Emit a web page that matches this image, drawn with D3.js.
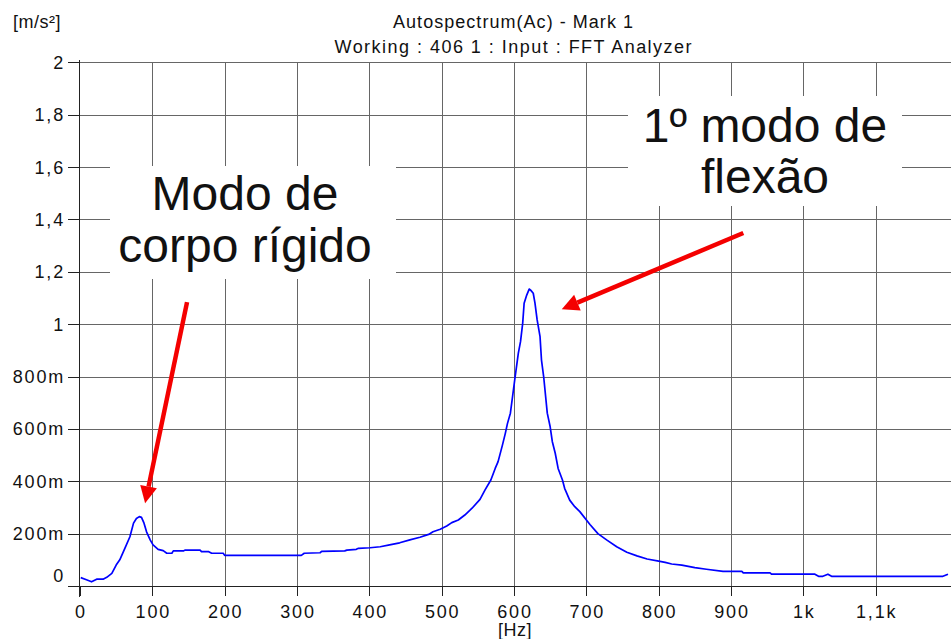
<!DOCTYPE html>
<html>
<head>
<meta charset="utf-8">
<script src="https://cdn.jsdelivr.net/npm/d3@7"></script>
<style>
  html, body { margin: 0; padding: 0; background: #fff; }
  svg { display: block; }
  text { font-family: "Liberation Sans", Arial, Helvetica, sans-serif; fill: #111; }
</style>
</head>
<body>
<svg id="chart" width="951" height="639"></svg>
<script>
// Autospectrum of the acceleration signal: [frequency Hz, amplitude m/s²]
const spectrum = [
  [1, 0.032], [8, 0.025], [16, 0.016], [23, 0.026], [32, 0.026], [37, 0.033],
  [44, 0.048], [50, 0.080], [55, 0.100], [62, 0.144], [69, 0.188], [74, 0.240],
  [78, 0.258], [82, 0.265], [85, 0.262], [88.5, 0.240], [92, 0.207], [97, 0.176],
  [101, 0.157], [108, 0.140], [115, 0.135], [120, 0.125], [127, 0.125], [129, 0.134],
  [143, 0.134], [145, 0.137], [166, 0.137], [168, 0.131], [178, 0.131], [182, 0.125],
  [198, 0.125], [200, 0.117], [306, 0.117], [310, 0.125], [332, 0.127], [334, 0.132],
  [366, 0.134], [369, 0.137], [382, 0.140], [385, 0.144], [401, 0.146], [415, 0.150],
  [428, 0.157], [442, 0.165], [456, 0.176], [470, 0.186], [482, 0.197], [488, 0.207],
  [498, 0.217], [507, 0.229], [514, 0.242], [523, 0.252], [532, 0.271], [542, 0.297],
  [553, 0.331], [560, 0.367], [568, 0.405], [574, 0.449], [578, 0.475], [584, 0.538],
  [588, 0.583], [591, 0.621], [595, 0.660], [598, 0.723], [601, 0.787], [606, 0.889],
  [609, 0.933], [612, 1.003], [614, 1.080], [617.6, 1.111], [621, 1.134], [623, 1.130],
  [626.6, 1.118], [629, 1.080], [632, 1.016], [636, 0.952], [638, 0.863], [641, 0.800],
  [646, 0.660], [650, 0.608], [653, 0.551], [657, 0.507], [661, 0.449], [667, 0.405],
  [670, 0.373], [677, 0.328], [684, 0.303], [691, 0.284], [705, 0.235], [716, 0.200],
  [728, 0.176], [742, 0.150], [756, 0.129], [770, 0.115], [784, 0.103], [800, 0.095],
  [809, 0.090], [818, 0.084], [832, 0.080], [850, 0.070], [866, 0.064], [889, 0.056],
  [915, 0.056], [917, 0.050], [954, 0.050], [956, 0.045], [1016, 0.045], [1021, 0.037],
  [1027, 0.037], [1034, 0.045], [1039, 0.037], [1193, 0.037], [1200, 0.045]
];

const xTicks = [0, 100, 200, 300, 400, 500, 600, 700, 800, 900, 1000, 1100];
const xTickLabels = ["0", "100", "200", "300", "400", "500", "600", "700", "800", "900", "1k", "1,1k"];
const yTicks = [0, 0.2, 0.4, 0.6, 0.8, 1, 1.2, 1.4, 1.6, 1.8, 2];
const yTickLabels = ["0", "200m", "400m", "600m", "800m", "1", "1,2", "1,4", "1,6", "1,8", "2"];

const titleLines = ["Autospectrum(Ac) - Mark 1", "Working : 406 1 : Input : FFT Analyzer"];
const yUnit = "[m/s²]";
const xUnit = "[Hz]";

// Callouts: text lines and the frequency/amplitude the arrow points to
const callouts = [
  { lines: ["Modo de", "corpo rígido"], tail: [148, 1.084], head: [90, 0.316] },
  { lines: ["1º modo de", "flexão"], tail: [917, 1.348], head: [666, 1.057] }
];

const svg = d3.select("#chart");
const W = 951;

const x = d3.scaleLinear().domain([0, 1200]).range([80, 948]);
const y = d3.scaleLinear().domain([0, 2]).range([586, 62.3]);

const gridColor = "#666";

// Grid
const grid = svg.append("g");
grid.selectAll("line.h").data(yTicks.filter(d => d > 0)).join("line")
  .attr("x1", 80).attr("x2", W)
  .attr("y1", d => Math.round(y(d)) + 0.5).attr("y2", d => Math.round(y(d)) + 0.5)
  .attr("stroke", gridColor).attr("stroke-width", 1);
grid.selectAll("line.v").data(xTicks.filter(d => d > 0)).join("line")
  .attr("x1", d => Math.round(x(d)) + 0.5).attr("x2", d => Math.round(x(d)) + 0.5)
  .attr("y1", Math.round(y(2)) + 0.5).attr("y2", 586.5)
  .attr("stroke", gridColor).attr("stroke-width", 1);

// Axes
const axisColor = "#222";
const ax = svg.append("g");
ax.append("line").attr("x1", 79.5).attr("x2", 79.5).attr("y1", 60).attr("y2", 597)
  .attr("stroke", axisColor);
ax.append("line").attr("x1", 68).attr("x2", W).attr("y1", 586.5).attr("y2", 586.5)
  .attr("stroke", axisColor);
ax.selectAll("line.yt").data(yTicks).join("line")
  .attr("x1", 68).attr("x2", 79.5)
  .attr("y1", d => Math.round(y(d)) + 0.5).attr("y2", d => Math.round(y(d)) + 0.5)
  .attr("stroke", axisColor);
ax.selectAll("line.xt").data(xTicks).join("line")
  .attr("x1", d => Math.round(x(d)) + 0.5).attr("x2", d => Math.round(x(d)) + 0.5)
  .attr("y1", 586.5).attr("y2", 596)
  .attr("stroke", axisColor);

ax.selectAll("text.yl").data(yTicks).join("text")
  .attr("x", 65)
  .attr("y", (d, i) => d === 0 ? y(d) - 4.5 : y(d) + 6.5)
  .attr("text-anchor", "end")
  .attr("font-size", 18)
  .attr("letter-spacing", 1.8)
  .text((d, i) => yTickLabels[i]);

ax.selectAll("text.xl").data(xTicks).join("text")
  .attr("x", d => x(d) + 1)
  .attr("y", 617.5)
  .attr("text-anchor", "middle")
  .attr("font-size", 18)
  .attr("letter-spacing", 1.8)
  .text((d, i) => xTickLabels[i]);

// Titles and units
svg.append("text").attr("x", 513).attr("y", 28).attr("text-anchor", "middle")
  .attr("font-size", 18).attr("textLength", 240).attr("lengthAdjust", "spacing")
  .text(titleLines[0]);
svg.append("text").attr("x", 513).attr("y", 53).attr("text-anchor", "middle")
  .attr("font-size", 18).attr("textLength", 357).attr("lengthAdjust", "spacing")
  .text(titleLines[1]);
svg.append("text").attr("x", 13).attr("y", 28).attr("font-size", 18)
  .attr("letter-spacing", 0.5).text(yUnit);
svg.append("text").attr("x", 515).attr("y", 636).attr("text-anchor", "middle")
  .attr("font-size", 18).attr("letter-spacing", 0.5).text(xUnit);

// Spectrum curve
const line = d3.line().x(d => x(d[0])).y(d => y(d[1]));
svg.append("path").datum(spectrum)
  .attr("d", line)
  .attr("fill", "none")
  .attr("stroke", "#0000ff")
  .attr("stroke-width", 1.7)
  .attr("stroke-linejoin", "round");

// Callout boxes and labels
const boxes = [
  { x0: 110, x1: 396, y0: 166, y1: 279, cx: 245, base: [210, 262] },
  { x0: 628, x1: 902, y0: 96, y1: 206, cx: 765, base: [142, 193] }
];
callouts.forEach((c, i) => {
  const b = boxes[i];
  svg.append("rect").attr("x", b.x0).attr("y", b.y0)
    .attr("width", b.x1 - b.x0).attr("height", b.y1 - b.y0).attr("fill", "#fff");
  c.lines.forEach((t, j) => {
    svg.append("text").attr("x", b.cx).attr("y", b.base[j])
      .attr("text-anchor", "middle").attr("font-size", 48).attr("fill", "#000")
      .text(t);
  });
});

// Red arrows
const red = "#f40000";
callouts.forEach(c => {
  const x1 = x(c.tail[0]), y1 = y(c.tail[1]);
  const x2 = x(c.head[0]), y2 = y(c.head[1]);
  const ang = Math.atan2(y2 - y1, x2 - x1);
  const hl = 17, hw = 8.5;
  const bx = x2 - hl * Math.cos(ang), by = y2 - hl * Math.sin(ang);
  svg.append("line").attr("x1", x1).attr("y1", y1).attr("x2", bx).attr("y2", by)
    .attr("stroke", red).attr("stroke-width", 4.5);
  const px = -Math.sin(ang), py = Math.cos(ang);
  svg.append("path")
    .attr("d", `M${x2},${y2}L${bx + px * hw},${by + py * hw}L${bx - px * hw},${by - py * hw}Z`)
    .attr("fill", red);
});
</script>
</body>
</html>
